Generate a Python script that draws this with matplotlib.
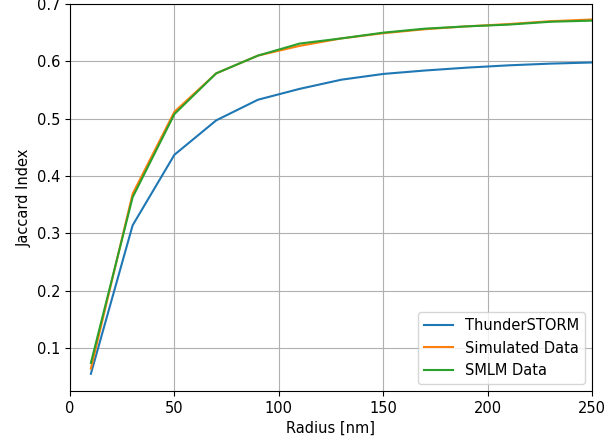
import matplotlib
matplotlib.use("Agg")
import matplotlib.pyplot as plt

radius = [10, 30, 50, 70, 90, 110, 130, 150, 170, 190, 210, 230, 250]
thunderstorm = [0.055, 0.314, 0.437, 0.497, 0.533, 0.552, 0.568, 0.578, 0.584, 0.589, 0.593, 0.596, 0.598]
simulated = [0.064, 0.369, 0.512, 0.579, 0.610, 0.627, 0.640, 0.649, 0.656, 0.661, 0.665, 0.670, 0.673]
smlm = [0.074, 0.363, 0.508, 0.579, 0.610, 0.631, 0.640, 0.650, 0.657, 0.661, 0.664, 0.669, 0.671]

plt.rcParams['font.size'] = 10.5

fig = plt.figure(figsize=(6.16, 4.4), dpi=100)
ax = fig.add_axes([70/616, 49/440, 522/616, 387/440])
ax.plot(radius, thunderstorm, label="ThunderSTORM")
ax.plot(radius, simulated, label="Simulated Data")
ax.plot(radius, smlm, label="SMLM Data")
ax.set_xlim(0, 250)
ax.set_ylim(0.025, 0.7)
ax.set_yticks([0.1, 0.2, 0.3, 0.4, 0.5, 0.6, 0.7])
ax.set_xlabel("Radius [nm]")
ax.set_ylabel("Jaccard Index")
ax.grid(True)
ax.legend(loc="lower right")
fig.savefig("out.png", dpi=100)
